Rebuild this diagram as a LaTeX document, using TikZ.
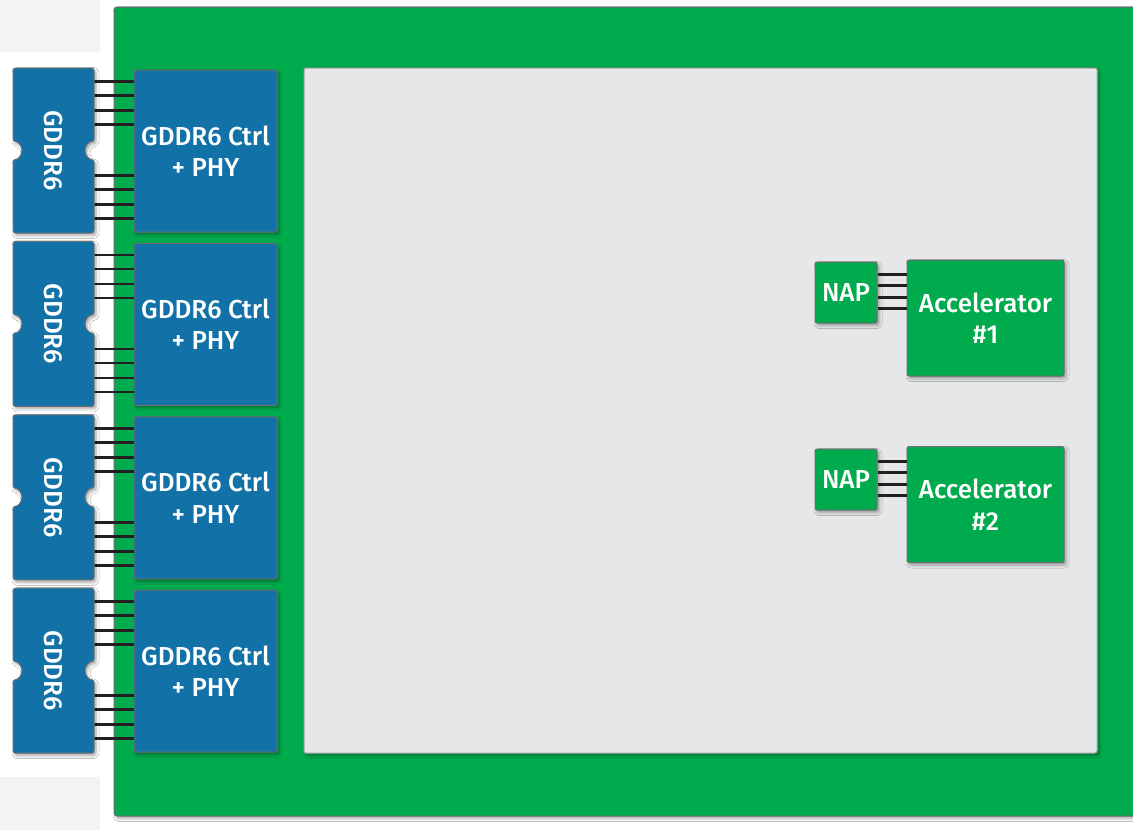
\documentclass[tikz,border=0pt]{standalone}
\usepackage{fontspec}
\setmainfont{Fira Sans}[UprightFont={* Medium}, BoldFont={* Bold}]
\usetikzlibrary{shadows.blur}
\definecolor{chipblue}{HTML}{1272A8}
\definecolor{boardgreen}{HTML}{00AB4E}
\definecolor{panelgray}{HTML}{E6E7E9}
\definecolor{edgegray}{HTML}{6D6E71}
\definecolor{wirecol}{HTML}{231F20}
\definecolor{pagegray}{HTML}{F3F3F3}
\tikzset{
  sh/.style={blur shadow={shadow xshift=2pt, shadow yshift=-2.5pt, shadow blur radius=3pt, shadow opacity=35}},
  wire/.style={draw=wirecol, line width=2.8pt},
  labeltext/.style={text=white, font=\fontsize{26}{31.5}\selectfont, align=center, inner sep=0pt},
  ctrlbox/.style={labeltext, draw=edgegray, line width=1pt, fill=chipblue, rounded corners=2pt,
     minimum width=143pt, minimum height=162pt, sh},
  chipbody/.style={draw=edgegray, line width=1pt, fill=chipblue, rounded corners=2.5pt, sh},
  chiplabel/.style={labeltext, minimum width=81pt, minimum height=165pt},
  napbox/.style={labeltext, draw=edgegray, line width=1pt, fill=boardgreen, rounded corners=2pt,
     minimum width=62pt, minimum height=61pt, sh},
  accbox/.style={labeltext, draw=edgegray, line width=1pt, fill=boardgreen, rounded corners=2pt,
     minimum width=157pt, minimum height=116pt, sh},
}
\begin{document}
\begin{tikzpicture}[x=1pt, y=-1pt]
\useasboundingbox (0,0) rectangle (1133,830);
\fill[white] (0,0) rectangle (1133,830);
\fill[pagegray] (0,0) rectangle (100,52);
\fill[pagegray] (0,777) rectangle (100,830);
% board
\draw[fill=boardgreen, draw=edgegray, line width=1pt, rounded corners=3pt, sh] (114,7) rectangle (1145,816);
% panel
\draw[fill=panelgray, draw=gray!70, line width=1pt, rounded corners=2pt, sh] (304,68) rectangle (1097,753);
% memory rows
\foreach \i in {0,1,2,3}{
  \pgfmathsetmacro{\ct}{70+173.4*\i}
  \pgfmathsetmacro{\mt}{68+173.4*\i}
  \pgfmathsetmacro{\mb}{\mt+165}
  \pgfmathsetmacro{\mm}{\mt+82.5}
  \node[ctrlbox] (ctrl\i) at (205.5,\ct+81) {GDDR6 Ctrl\\+ PHY};
  \node[chiplabel] (chip\i) at (53.5,\mm) {};
  \foreach \dy in {12,26,41,55,106,120,135,149}{
    \coordinate (w) at ([yshift=-\dy pt]ctrl\i.north west);
    \draw[wire] (chip\i.east |- w) -- (w);
  }
  \draw[chipbody] (13,\mt) -- (94,\mt) -- (94,\mm-9) arc[start angle=90, end angle=270, radius=9pt]
     -- (94,\mb) -- (13,\mb) -- (13,\mm+9) arc[start angle=-90, end angle=90, radius=9pt] -- cycle;
  \node[chiplabel] at (chip\i.center) {\rotatebox{-90}{GDDR6}};
}
% accelerators
\node[napbox] (nap1) at (846,292.5) {NAP};
\node[napbox] (nap2) at (846,479.5) {NAP};
\node[accbox] (acc1) at (985.5,318) {Accelerator\\\#1};
\node[accbox] (acc2) at (985.5,504.5) {Accelerator\\\#2};
\foreach \k in {1,2}{
  \foreach \dy in {13,24,36,47}{
    \coordinate (n) at ([yshift=-\dy pt]nap\k.north east);
    \draw[wire] (n) -- (acc\k.west |- n);
  }
}
\end{tikzpicture}
\end{document}
